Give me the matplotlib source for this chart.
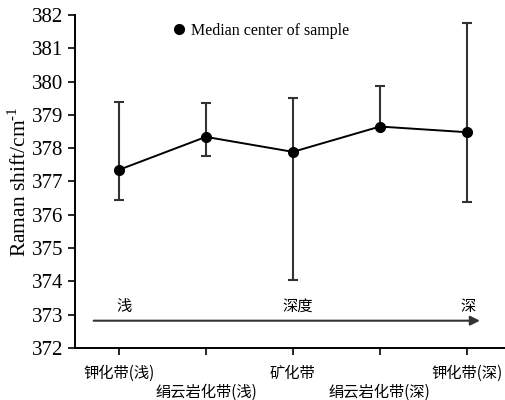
import matplotlib.pyplot as plt

plt.rcParams['font.family'] = ['Liberation Serif', 'Noto Sans CJK SC']
plt.rcParams['mathtext.fontset'] = 'custom'
plt.rcParams['mathtext.rm'] = 'Liberation Serif'

zones = ['钾化带(浅)', '绢云岩化带(浅)', '矿化带', '绢云岩化带(深)', '钾化带(深)']
median = [377.35, 378.34, 377.89, 378.65, 378.48]
upper = [379.40, 379.37, 379.50, 379.88, 381.75]
lower = [376.45, 377.76, 374.04, 378.65, 376.38]

x = list(range(len(zones)))
err_lo = [m - l for m, l in zip(median, lower)]
err_hi = [u - m for m, u in zip(median, upper)]

fig = plt.figure(figsize=(5.06, 4.0), dpi=100)
ax = fig.add_axes([0.148, 0.13, 0.852, 0.8325])

ax.errorbar(x, median, yerr=[err_lo, err_hi], fmt='none', ecolor='#333333',
            elinewidth=1.5, capsize=3.8, capthick=1.5, zorder=2)
ax.plot(x, median, color='black', lw=1.4, marker='o', markersize=7,
        label='Median center of sample', zorder=3)

ax.set_xlim(-0.506, 4.45)
ax.set_ylim(372, 382)
ax.set_yticks(range(372, 383))
ax.tick_params(axis='y', labelsize=15, direction='out', length=5, width=1.2)
ax.tick_params(axis='x', direction='out', length=5, width=1.2, pad=7)
ax.set_xticks(x)
ax.set_xticklabels(['\n' * (i % 2) + z for i, z in enumerate(zones)],
                   fontsize=11, family=['Noto Sans CJK SC'], linespacing=1.2)
for s in ['top', 'right']:
    ax.spines[s].set_visible(False)
for s in ['left', 'bottom']:
    ax.spines[s].set_linewidth(1.4)

ax.set_ylabel(r'Raman shift/cm$^{\text{-1}}$', fontsize=15.5)
ax.yaxis.set_label_coords(-0.102, 0.5)

# depth arrow
ax.annotate('', xy=(4.15, 372.82), xytext=(-0.29, 372.82),
            arrowprops=dict(arrowstyle='-|>', color='#333333', lw=1.5,
                            mutation_scale=14, shrinkA=0, shrinkB=0))
ax.text(0.06, 373.25, '浅', fontsize=11, family=['Noto Sans CJK SC'], ha='center', va='center')
ax.text(2.05, 373.25, '深度', fontsize=11, family=['Noto Sans CJK SC'], ha='center', va='center')
ax.text(4.01, 373.25, '深', fontsize=11, family=['Noto Sans CJK SC'], ha='center', va='center')

ax.legend(loc='upper left', bbox_to_anchor=(0.207, 1.02), frameon=False,
          fontsize=11.5, handlelength=0, handletextpad=0.8, markerscale=1)

fig.savefig('out.png', dpi=100)
